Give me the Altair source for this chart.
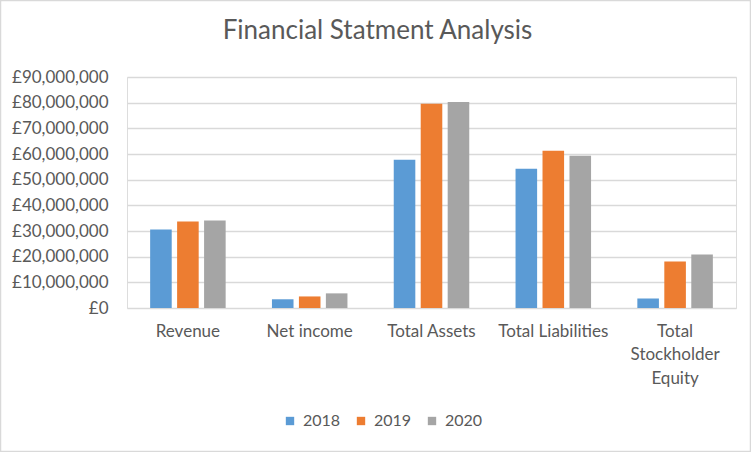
import altair as alt
import pandas as pd

categories = ["Revenue", "Net income", "Total Assets", "Total Liabilities", "Total Stockholder Equity"]
years = ["2018", "2019", "2020"]
v2018 = [30600000, 3400000, 57800000, 54300000, 3700000]
v2019 = [33700000, 4500000, 79600000, 61300000, 18100000]
v2020 = [34100000, 5700000, 80300000, 59300000, 20800000]
colors = ["#5B9BD5", "#ED7D31", "#A5A5A5"]

rows = []
for series, yr in zip([v2018, v2019, v2020], years):
    for c, v in zip(categories, series):
        rows.append({"Category": c, "Year": yr, "Value": v})
df = pd.DataFrame(rows)

FONT = "Lato"
TXT = "#595959"

bars = alt.Chart(df).mark_bar().encode(
    x=alt.X("Category:N", sort=categories, title=None,
            scale=alt.Scale(paddingInner=0.38, paddingOuter=0.19),
            axis=alt.Axis(labelAngle=0, domain=False, ticks=False, labelPadding=15,
                          labelFontSize=17, labelColor=TXT, labelFont=FONT, labelLineHeight=23.5,
                          labelExpr="datum.value == 'Total Stockholder Equity' ? ['Total','Stockholder','Equity'] : datum.label")),
    xOffset=alt.XOffset("Year:N", sort=years, scale=alt.Scale(paddingInner=0.2, paddingOuter=0)),
    y=alt.Y("Value:Q", title=None, scale=alt.Scale(domain=[0, 90000000]),
            axis=alt.Axis(values=list(range(0, 90000001, 10000000)), domain=False, ticks=False,
                          labelPadding=19, labelFontSize=17, labelColor=TXT, labelFont=FONT,
                          gridColor="#D9D9D9", gridWidth=1.3,
                          labelExpr="'£' + format(datum.value, ',.0f')")),
    color=alt.Color("Year:N", sort=years, scale=alt.Scale(domain=years, range=colors),
                    legend=alt.Legend(title=None, orient="none", direction="horizontal",
                                      legendX=155, legendY=336, symbolType="square",
                                      symbolSize=70, symbolStrokeWidth=0, labelFontSize=16,
                                      labelColor=TXT, labelFont=FONT, columnPadding=12,
                                      labelOffset=5)),
)

border = alt.Chart(pd.DataFrame({"a": [0]})).mark_rect(
    fill=None, stroke="#D9D9D9", strokeWidth=1.5
).encode(x=alt.value(-126.5), x2=alt.value(623.5), y=alt.value(-76.5), y2=alt.value(374.5))

chart = alt.layer(border, bars).properties(
    width=609, height=231,
    autosize=alt.AutoSizeParams(type="none"),
    padding={"left": 127, "top": 77, "right": 15, "bottom": 144},
    title=alt.Title("Financial Statment Analysis", fontSize=26, font=FONT, fontWeight="normal",
                    color=TXT, anchor="middle", dx=-54, offset=-44),
).configure_view(stroke=None).configure(background="white")

chart.save("out.html", embed_options={"renderer": "svg", "actions": False})
